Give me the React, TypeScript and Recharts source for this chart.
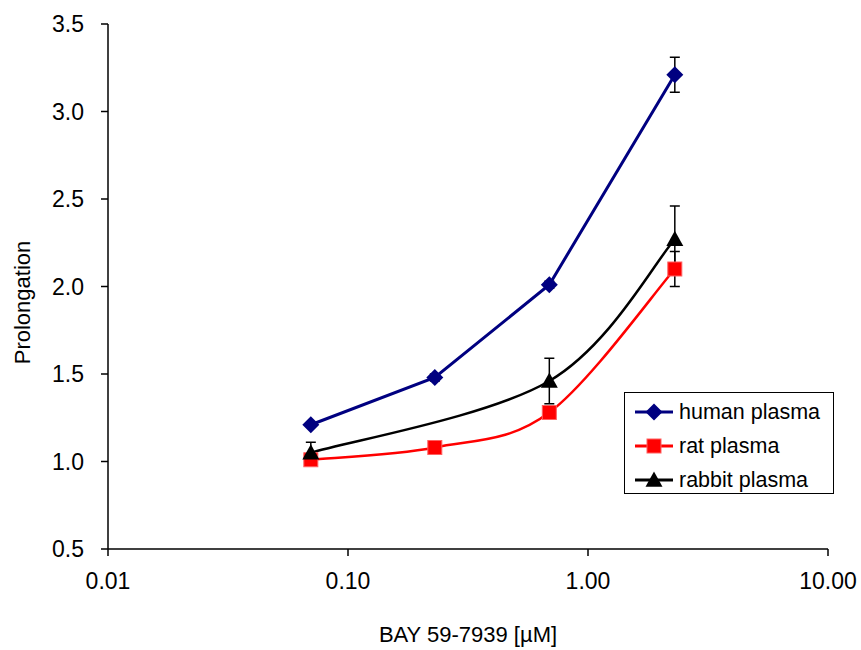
import { LineChart, Line, XAxis, YAxis, ErrorBar, Legend, Label } from "recharts"

const conc = [0.07, 0.23, 0.69, 2.3]
const human = [1.21, 1.48, 2.01, 3.21]
const humanErr = [0.01, 0.02, 0.02, 0.1]
const rat = [1.01, 1.08, 1.28, 2.1]
const ratErr = [0.01, 0.01, 0.03, 0.1]
const rabbit = [1.05, null, 1.46, 2.27]
const rabbitErr = [0.06, null, 0.13, 0.19]

const xTicks = [0.01, 0.1, 1, 10]
const yTicks = [0.5, 1.0, 1.5, 2.0, 2.5, 3.0, 3.5]

const FONT = "'Liberation Sans', Arial, sans-serif"

const SERIES = [
  { key: "human", name: "human plasma", color: "#000080", shape: "diamond" },
  { key: "rat", name: "rat plasma", color: "#ff0000", shape: "square" },
  { key: "rabbit", name: "rabbit plasma", color: "#000000", shape: "triangle" },
]

const data = conc.map((x, i) => ({
  x,
  human: human[i],
  humanErr: humanErr[i],
  rat: rat[i],
  ratErr: ratErr[i],
  rabbit: rabbit[i],
  rabbitErr: rabbitErr[i],
}))

// Excel-style smoothed line (Catmull-Rom as cubic beziers)
function smoothCurve(context: any) {
  let pts: number[][] = []
  return {
    areaStart() {},
    areaEnd() {},
    lineStart() {
      pts = []
    },
    lineEnd() {
      const n = pts.length
      if (!n) return
      context.moveTo(pts[0][0], pts[0][1])
      for (let i = 0; i < n - 1; i++) {
        const p0 = pts[Math.max(i - 1, 0)]
        const p1 = pts[i]
        const p2 = pts[i + 1]
        const p3 = pts[Math.min(i + 2, n - 1)]
        context.bezierCurveTo(
          p1[0] + (p2[0] - p0[0]) / 6,
          p1[1] + (p2[1] - p0[1]) / 6,
          p2[0] - (p3[0] - p1[0]) / 6,
          p2[1] - (p3[1] - p1[1]) / 6,
          p2[0],
          p2[1]
        )
      }
    },
    point(x: number, y: number) {
      pts.push([+x, +y])
    },
  }
}

function Marker({ cx, cy, shape, color }: { cx: number; cy: number; shape: string; color: string }) {
  if (cx == null || cy == null) return null
  if (shape === "diamond") {
    const r = 8.5
    return <path d={`M${cx},${cy - r}L${cx + r},${cy}L${cx},${cy + r}L${cx - r},${cy}Z`} fill={color} />
  }
  if (shape === "square") {
    const r = 7
    return <rect x={cx - r} y={cy - r} width={r * 2} height={r * 2} fill={color} stroke="#ff6060" strokeWidth={1} />
  }
  const r = 8.5
  return <path d={`M${cx},${cy - r}L${cx + r},${cy + r * 0.8}L${cx - r},${cy + r * 0.8}Z`} fill={color} />
}

function makeDot(shape: string, color: string) {
  return (props: any) => {
    const { cx, cy, index, value } = props
    if (value == null || cy == null) return <g key={`d-${index}`} />
    return (
      <g key={`d-${index}`}>
        <Marker cx={cx} cy={cy} shape={shape} color={color} />
      </g>
    )
  }
}

function LegendBox() {
  return (
    <div
      style={{
        width: 210,
        height: 102,
        border: "1.5px solid #000",
        background: "#fff",
        fontFamily: FONT,
        fontSize: 21.5,
        padding: "2px 0 0 8px",
        boxSizing: "border-box",
      }}
    >
      {SERIES.map((s) => (
        <div key={s.key} style={{ display: "flex", alignItems: "center", height: 34 }}>
          <svg width={42} height={20}>
            <line x1={2} x2={40} y1={10} y2={10} stroke={s.color} strokeWidth={3} />
            <Marker cx={21} cy={10} shape={s.shape} color={s.color} />
          </svg>
          <span style={{ marginLeft: 4, color: "#000" }}>{s.name}</span>
        </div>
      ))}
    </div>
  )
}

export default function App() {
  return (
    <div style={{ position: "absolute", left: 0, top: 0, background: "#fff" }}>
      <LineChart width={861} height={650} data={data} margin={{ top: 24, right: 33, left: 0, bottom: 0 }}>
        <XAxis
          dataKey="x"
          type="number"
          scale="log"
          domain={[0.01, 10]}
          ticks={xTicks}
          allowDataOverflow
          tickFormatter={(v: number) => v.toFixed(2)}
          height={101}
          tickSize={7}
          tickMargin={17}
          axisLine={{ stroke: "#000", strokeWidth: 1.5 }}
          tickLine={{ stroke: "#000", strokeWidth: 1.5 }}
          tick={{ fill: "#000", fontSize: 23, fontFamily: FONT }}
        >
          <Label
            value="BAY 59-7939 [µM]"
            position="insideBottom"
            offset={8}
            style={{ fill: "#000", fontSize: 22, fontFamily: FONT }}
          />
        </XAxis>
        <YAxis
          type="number"
          domain={[0.5, 3.5]}
          ticks={yTicks}
          allowDataOverflow
          tickFormatter={(v: number) => v.toFixed(1)}
          width={108}
          tickSize={7}
          tickMargin={17}
          axisLine={{ stroke: "#000", strokeWidth: 1.5 }}
          tickLine={{ stroke: "#000", strokeWidth: 1.5 }}
          tick={{ fill: "#000", fontSize: 23, fontFamily: FONT }}
        >
          <Label
            content={(p: any) => {
              const vb = p.viewBox
              const x = 22
              const y = vb.y + vb.height / 2 + 16
              return (
                <text
                  x={x}
                  y={y}
                  transform={`rotate(-90, ${x}, ${y})`}
                  textAnchor="middle"
                  dominantBaseline="central"
                  style={{ fill: "#000", fontSize: 22, fontFamily: FONT }}
                >
                  Prolongation
                </text>
              )
            }}
          />
        </YAxis>
        <Legend
          layout="vertical"
          align="center"
          verticalAlign="middle"
          content={() => <LegendBox />}
          wrapperStyle={{ position: "absolute", left: 624, top: 392, width: 210 }}
        />
        <Line
          dataKey="human"
          name="human plasma"
          type="linear"
          stroke="#000080"
          strokeWidth={3}
          dot={makeDot("diamond", "#000080")}
          activeDot={false}
          isAnimationActive={false}
        >
          <ErrorBar dataKey="humanErr" direction="y" width={5} stroke="#000" strokeWidth={1.5} />
        </Line>
        <Line
          dataKey="rat"
          name="rat plasma"
          type={smoothCurve as any}
          stroke="#ff0000"
          strokeWidth={2.5}
          dot={makeDot("square", "#ff0000")}
          activeDot={false}
          isAnimationActive={false}
        >
          <ErrorBar dataKey="ratErr" direction="y" width={5} stroke="#000" strokeWidth={1.5} />
        </Line>
        <Line
          dataKey="rabbit"
          name="rabbit plasma"
          type={smoothCurve as any}
          stroke="#000000"
          strokeWidth={2.5}
          connectNulls
          dot={makeDot("triangle", "#000000")}
          activeDot={false}
          isAnimationActive={false}
        >
          <ErrorBar dataKey="rabbitErr" direction="y" width={5} stroke="#000" strokeWidth={1.5} />
        </Line>
      </LineChart>
    </div>
  )
}
